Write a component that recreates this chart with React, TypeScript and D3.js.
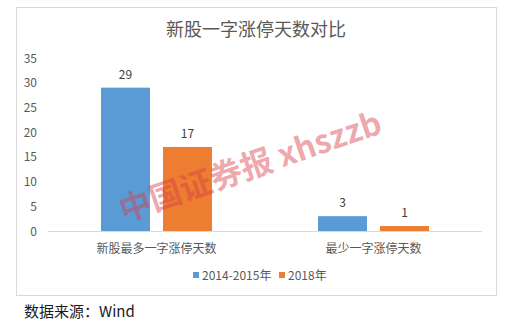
import React from "react";
import * as d3 from "d3";

const categories = ["新股最多一字涨停天数", "最少一字涨停天数"];
const seriesNames = ["2014-2015年", "2018年"];
const series2014_2015 = [29, 3];
const series2018 = [17, 1];
const yTicks = [0, 5, 10, 15, 20, 25, 30, 35];
const colors = ["#5B9BD5", "#ED7D31"];

const W = 509;
const H = 324;
const FONT = "'Noto Sans CJK SC', 'Noto Sans', sans-serif";

export default function App() {
  const seriesValues = [series2014_2015, series2018];
  const x0 = d3.scaleBand<string>().domain(categories).range([48, 482]).paddingInner(0).paddingOuter(0);
  const x1 = d3.scaleBand<string>().domain(seriesNames).range([0, x0.bandwidth()]).paddingInner(0.21).paddingOuter(0.855);
  const y = d3.scaleLinear().domain([0, 35]).range([231, 58]);

  return (
    <svg width={W} height={H} style={{ position: "absolute", left: 0, top: 0 }} fontFamily={FONT}>
      <rect x={0} y={0} width={W} height={H} fill="#fff" />
      <rect x={16.5} y={7.5} width={480} height={288} fill="#fff" stroke="#d9d9d9" strokeWidth={1} />
      <text x={256} y={36} textAnchor="middle" fontSize={18} fill="#595959">新股一字涨停天数对比</text>
      {yTicks.map((t) => (
        <text key={t} x={37} y={y(t) + 4.5} textAnchor="end" fontSize={12} fill="#595959">{t}</text>
      ))}
      {categories.map((c, i) => (
        <g key={c}>
          {seriesNames.map((s, j) => {
            const v = seriesValues[j][i];
            const bx = (x0(c) ?? 0) + (x1(s) ?? 0);
            return (
              <g key={s}>
                <rect x={bx} y={y(v)} width={x1.bandwidth()} height={y(0) - y(v)} fill={colors[j]} />
                <text x={bx + x1.bandwidth() / 2} y={y(v) - 9} textAnchor="middle" fontSize={12} fill="#404040">{v}</text>
              </g>
            );
          })}
          <text x={(x0(c) ?? 0) + x0.bandwidth() / 2} y={253} textAnchor="middle" fontSize={12} fill="#595959">{c}</text>
        </g>
      ))}
      <line x1={48} x2={482} y1={231.5} y2={231.5} stroke="#d9d9d9" strokeWidth={1} />
      {/* legend */}
      <g>
        <rect x={193} y={272} width={6} height={6} fill={colors[0]} />
        <text x={202} y={279.5} fontSize={12} fill="#595959">{seriesNames[0]}</text>
        <rect x={279} y={272} width={6} height={6} fill={colors[1]} />
        <text x={288} y={279.5} fontSize={12} fill="#595959">{seriesNames[1]}</text>
      </g>
      <text x={24} y={317} fontSize={15} fill="#1a1a1a">数据来源：Wind</text>
      {/* watermark */}
      <text
        x={0}
        y={0}
        fontSize={32}
        fontWeight="bold"
        fill="rgba(215,60,70,0.45)"
        transform="translate(124,222) rotate(-19)"
      >
        中国证券报 xhszzb
      </text>
    </svg>
  );
}
